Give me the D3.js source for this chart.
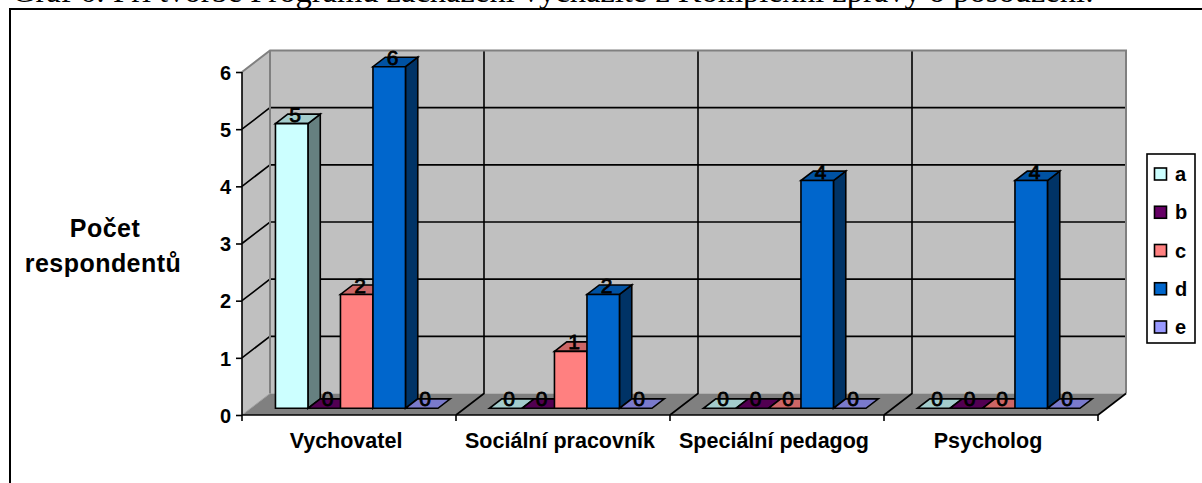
<!DOCTYPE html>
<html>
<head>
<meta charset="utf-8">
<script src="https://cdn.jsdelivr.net/npm/d3@7"></script>
<style>
  html, body { margin: 0; padding: 0; background: #fff; overflow: hidden; }
  text { font-family: "Liberation Sans", Arial, sans-serif; font-weight: bold; fill: #000; }
</style>
</head>
<body>
<div id="chart"></div>
<script>
const width = 1202;
const height = 483;

const categories = ["Vychovatel", "Sociální pracovník", "Speciální pedagog", "Psycholog"];
const seriesNames = ["a", "b", "c", "d", "e"];
const seriesA = [5, 0, 0, 0];
const seriesB = [0, 0, 0, 0];
const seriesC = [2, 1, 0, 0];
const seriesD = [6, 2, 4, 4];
const seriesE = [0, 0, 0, 0];
const yTicks = [0, 1, 2, 3, 4, 5, 6];
const allSeries = [seriesA, seriesB, seriesC, seriesD, seriesE];

const frontColors = ["#CCFFFF", "#660066", "#FF8080", "#0066CC", "#9999FF"];
const topColors = ["#A3CCCC", "#520052", "#CC6666", "#0052A3", "#7A7ACC"];
const sideColors = ["#668080", "#330033", "#804040", "#003366", "#4D4D80"];

const svg = d3.select("#chart").append("svg")
  .attr("width", width)
  .attr("height", height)
  .style("display", "block");

const x0 = d3.scaleBand().domain(categories).range([242, 1098]);
const x1 = d3.scaleBand().domain(seriesNames).range([24.5, 187]);
const y = d3.scaleLinear().domain([0, 6]).range([415, 72]);
// bars sit a little behind the front edge, so their scale is slightly shorter
const yBar = d3.scaleLinear().domain([0, 6]).range([408.3, 66.7]);

// oblique projection: z = 0 is the front of the floor, z = 1 the back wall
const depthX = 28;
const depthY = 21.5;
const px = (xv, z) => xv + depthX * z;
const py = (v, z) => y(v) - depthY * z;
const pt = (xv, v, z) => px(xv, z) + "," + py(v, z);
const barFront = 0.32;
const barBack = 0.76;
const barPt = (xv, v, z) => px(xv, z) + "," + (yBar(v) - depthY * (z - barFront));

const xEdges = d3.range(categories.length + 1).map((i) => x0.range()[0] + i * x0.step());
const xLeft = xEdges[0];
const xRight = xEdges[xEdges.length - 1];
const yMax = d3.max(yTicks);

// frame and title
svg.append("text")
  .attr("x", 12).attr("y", 2)
  .style("font-family", "'Liberation Serif', serif")
  .style("font-weight", "normal")
  .style("font-size", "32.5px")
  .text("Graf 6: Při tvorbě Programu zacházení vycházíte z Komplexní zprávy o posouzení:");

svg.append("path")
  .attr("d", "M10," + height + "V9H" + width)
  .attr("fill", "none").attr("stroke", "#000").attr("stroke-width", 2);

// walls and floor
svg.append("polygon")
  .attr("points", [pt(xLeft, 0, 1), pt(xLeft, yMax, 1), pt(xRight, yMax, 1), pt(xRight, 0, 1)].join(" "))
  .attr("fill", "#C0C0C0");
svg.append("polygon")
  .attr("points", [pt(xLeft, 0, 0), pt(xLeft, yMax, 0), pt(xLeft, yMax, 1), pt(xLeft, 0, 1)].join(" "))
  .attr("fill", "#C0C0C0");
svg.append("polygon")
  .attr("points", [pt(xLeft, 0, 0), pt(xRight, 0, 0), pt(xRight, 0, 1), pt(xLeft, 0, 1)].join(" "))
  .attr("fill", "#808080");

// gridlines on the walls
const grid = svg.append("g").attr("fill", "none").attr("stroke", "#000").attr("stroke-width", 1.6);
grid.selectAll(".hgrid").data(yTicks.slice(1, -1)).enter().append("polyline")
  .attr("points", (d) => [pt(xLeft, d, 0), pt(xLeft, d, 1), pt(xRight, d, 1)].join(" "));
grid.selectAll(".vgrid").data(xEdges.slice(1, -1)).enter().append("polyline")
  .attr("points", (d) => [pt(d, 0, 0), pt(d, 0, 1), pt(d, yMax, 1)].join(" "));

// grey wall edges
svg.append("polyline")
  .attr("points", [pt(xLeft, yMax, 0), pt(xLeft, yMax, 1), pt(xRight, yMax, 1), pt(xRight, 0, 1)].join(" "))
  .attr("fill", "none").attr("stroke", "#808080").attr("stroke-width", 2);
svg.append("line")
  .attr("x1", px(xLeft, 1)).attr("x2", px(xLeft, 1))
  .attr("y1", py(yMax, 1)).attr("y2", py(0, 1))
  .attr("stroke", "#808080").attr("stroke-width", 2);
svg.append("line")
  .attr("x1", px(xLeft, 0)).attr("x2", px(xLeft, 1))
  .attr("y1", py(0, 0)).attr("y2", py(0, 1))
  .attr("stroke", "#A0A0A0").attr("stroke-width", 1);
svg.append("line")
  .attr("x1", px(xRight, 0)).attr("x2", px(xRight, 1))
  .attr("y1", py(0, 0)).attr("y2", py(0, 1))
  .attr("stroke", "#000").attr("stroke-width", 1.6);

// bars, left to right so later ones cover the tops of earlier ones
const barData = [];
categories.forEach((c, ci) => {
  seriesNames.forEach((s, si) => {
    barData.push({ c: c, s: s, si: si, value: allSeries[si][ci] });
  });
});

const bars = svg.append("g").selectAll("g").data(barData).enter().append("g")
  .attr("stroke", "#000").attr("stroke-width", 1.6).attr("stroke-linejoin", "miter");

const x1L = (d) => x0(d.c) + x1(d.s);
const x1R = (d) => x1L(d) + x1.bandwidth();

bars.filter((d) => d.value > 0).append("polygon")
  .attr("points", (d) => [barPt(x1R(d), 0, barFront), barPt(x1R(d), d.value, barFront), barPt(x1R(d), d.value, barBack), barPt(x1R(d), 0, barBack)].join(" "))
  .attr("fill", (d) => sideColors[d.si]);
bars.append("polygon")
  .attr("points", (d) => [barPt(x1L(d), d.value, barFront), barPt(x1R(d), d.value, barFront), barPt(x1R(d), d.value, barBack), barPt(x1L(d), d.value, barBack)].join(" "))
  .attr("fill", (d) => topColors[d.si]);
bars.filter((d) => d.value > 0).append("polygon")
  .attr("points", (d) => [barPt(x1L(d), 0, barFront), barPt(x1R(d), 0, barFront), barPt(x1R(d), d.value, barFront), barPt(x1L(d), d.value, barFront)].join(" "))
  .attr("fill", (d) => frontColors[d.si]);

// axes
const yAxis = d3.axisLeft(y).tickValues(yTicks).tickSize(6).tickPadding(5).tickFormat(d3.format("d"));
const yAxisG = svg.append("g").attr("transform", "translate(" + xLeft + ",0)").call(yAxis);
yAxisG.selectAll("text").style("font-size", "20px").attr("dy", "0.36em");
yAxisG.selectAll("line").attr("stroke", "#000").attr("stroke-width", 1.6);
yAxisG.select(".domain").attr("stroke", "#000").attr("stroke-width", 1.6).attr("d", "M0," + y(yMax) + "V" + y(0));

const xAxis = d3.axisBottom(x0).tickSize(0).tickPadding(18);
const xAxisG = svg.append("g").attr("transform", "translate(-3," + y(0) + ")").call(xAxis);
xAxisG.selectAll("text").style("font-size", "21.5px");
xAxisG.select(".domain").remove();

svg.append("line")
  .attr("x1", xLeft).attr("x2", xRight).attr("y1", y(0)).attr("y2", y(0))
  .attr("stroke", "#000").attr("stroke-width", 1.6);
svg.selectAll(".xtick").data(xEdges).enter().append("line")
  .attr("x1", (d) => d).attr("x2", (d) => d)
  .attr("y1", y(0)).attr("y2", y(0) + 6)
  .attr("stroke", "#000").attr("stroke-width", 1.6);

// y title
svg.append("text").attr("text-anchor", "middle").attr("x", 105).attr("y", 237)
  .style("font-size", "25px").style("letter-spacing", "0.45px").text("Počet");
svg.append("text").attr("text-anchor", "middle").attr("x", 103).attr("y", 272)
  .style("font-size", "25px").style("letter-spacing", "0.45px").text("respondentů");

// value labels
svg.append("g").selectAll("text").data(barData).enter().append("text")
  .attr("text-anchor", "middle")
  .attr("x", (d) => px(x1L(d) + x1.bandwidth() / 2, barFront) + 3.5)
  .attr("y", (d) => yBar(d.value) - depthY * (barBack - barFront))
  .attr("dy", "0.36em")
  .style("font-size", "21px")
  .style("font-weight", "normal")
  .style("stroke", "#000")
  .style("stroke-width", 0.8)
  .text((d) => d.value);

// legend
const legendY = d3.scalePoint().domain(seriesNames).range([174, 327]);
const legend = svg.append("g");
legend.append("rect")
  .attr("x", 1147).attr("y", 154).attr("width", 48).attr("height", 189)
  .attr("fill", "#fff").attr("stroke", "#000").attr("stroke-width", 1.6);
const rows = legend.selectAll(".row").data(seriesNames).enter().append("g")
  .attr("transform", (d) => "translate(1154.5," + legendY(d) + ")");
rows.append("rect")
  .attr("x", 0).attr("y", -6).attr("width", 12).attr("height", 12)
  .attr("fill", (d, i) => frontColors[i]).attr("stroke", "#000").attr("stroke-width", 1.6);
rows.append("text")
  .attr("x", 20.5).attr("dy", "0.36em")
  .style("font-size", "20px")
  .text((d) => d);
</script>
</body>
</html>
